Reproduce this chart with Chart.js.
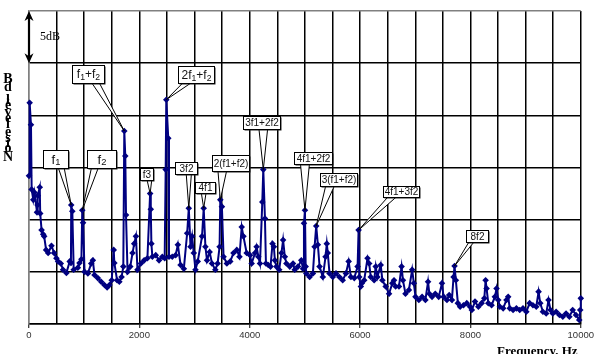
<!DOCTYPE html>
<html>
<head>
<meta charset="utf-8">
<script src="https://cdn.jsdelivr.net/npm/chart.js@4/dist/chart.umd.min.js"></script>
<style>
  html, body { margin: 0; padding: 0; background: #fff; }
  canvas { display: block; }
</style>
</head>
<body>
<canvas id="c" width="596" height="354"></canvas>
<script>
// Spectrum: frequency (Hz) and relative noise level (dB above the plot floor)
const freqHz = [
  0,12,36,48,78,100,145,155,160,195,203,228,257,275,310,347,407,455,497,527,
  576,617,678,738,760,765,785,810,885,915,950,965,980,1007,1067,1128,1157,1187,1247,1308,
  1367,1416,1457,1499,1535,1547,1596,1637,1678,1709,1727,1745,1758,1786,1835,1876,1907,1938,1966,2027,
  2087,2146,2195,2207,2218,2236,2297,2357,2416,2459,2477,2488,2524,2537,2596,2657,2698,2747,2806,2866,
  2896,2927,2956,2986,3017,3058,3136,3166,3197,3226,3274,3316,3377,3418,3454,3467,3496,3526,3586,3647,
  3706,3766,3814,3855,3886,3945,4006,4035,4096,4125,4156,4186,4228,4246,4276,4294,4336,4377,4413,4438,
  4456,4485,4534,4575,4605,4636,4665,4726,4785,4816,4875,4935,4966,4983,5001,5014,5025,5086,5145,5176,
  5205,5235,5266,5325,5374,5397,5415,5446,5505,5564,5625,5685,5744,5793,5834,5895,5955,5973,5985,6014,
  6032,6075,6135,6165,6194,6255,6284,6314,6374,6404,6464,6525,6584,6615,6644,6705,6752,6777,6823,6885,
  6944,6975,7004,7065,7124,7184,7232,7256,7304,7363,7425,7484,7514,7574,7615,7664,7694,7712,7736,7772,
  7813,7874,7934,7993,8025,8083,8144,8203,8252,8275,8293,8324,8383,8443,8473,8504,8533,8593,8653,8684,
  8713,8773,8833,8893,8953,9013,9073,9133,9193,9235,9265,9313,9373,9415,9451,9493,9553,9613,9674,9733,
  9793,9853,9913,9972,9990,10000
];
const levelDb = [
  14.2,21.2,19.1,12.9,11.9,12.6,10.7,11.4,12.3,13.1,10.6,9.0,8.6,8.4,7.1,6.8,7.5,6.8,6.3,6.0,
  5.8,5.2,4.9,6.0,5.85,11.4,10.8,5.2,5.4,5.85,6.2,10.9,9.7,5.0,4.85,5.8,6.1,4.7,4.4,4.05,
  3.74,3.5,3.74,4.2,7.1,5.85,4.2,4.05,4.5,5.5,18.5,16.1,10.45,5.0,5.5,6.8,7.7,8.4,5.2,5.8,
  6.1,6.3,12.5,11.0,7.7,6.45,6.6,6.1,6.45,6.3,14.8,21.5,17.8,6.45,6.45,6.6,7.6,5.66,5.3,8.7,
  11.1,7.4,8.4,6.8,5.2,6.0,8.4,11.1,7.4,6.1,6.9,5.8,5.2,5.8,7.4,11.9,11.25,6.45,5.8,6.0,
  6.8,7.1,6.45,9.3,8.4,6.8,6.6,5.8,6.8,7.4,6.45,5.8,11.7,14.8,10.1,5.8,5.66,5.5,7.7,7.4,
  6.1,5.5,5.2,6.8,8.05,6.45,5.8,5.5,5.8,5.2,5.5,6.1,5.3,9.65,10.9,5.5,4.85,4.5,4.85,7.4,
  9.4,7.6,5.5,4.5,6.45,7.7,6.8,4.85,4.5,4.85,4.5,4.2,4.85,6.0,4.5,4.4,5.5,9.0,4.5,3.6,
  3.9,4.2,6.3,5.8,4.5,4.2,5.5,4.5,5.66,4.2,3.6,2.9,3.9,4.2,3.6,3.6,5.5,4.2,2.9,3.26,
  5.2,3.9,2.6,2.3,2.6,2.3,4.05,2.9,2.6,2.9,2.6,3.9,2.6,2.3,2.78,2.3,4.5,5.56,4.2,2.0,
  1.66,1.8,2.0,1.66,1.34,2.15,1.66,2.0,2.46,4.2,3.4,2.0,1.8,2.6,3.4,2.3,1.66,1.5,2.3,2.6,
  1.5,1.34,1.5,1.34,1.5,1.18,2.0,1.8,1.66,3.1,2.0,1.18,1.0,2.3,1.34,1.0,1.18,0.86,0.7,1.0,
  0.7,1.34,0.86,0.38,1.34,2.46
];

// Axis ticks
const xTickLabels = [0, 2000, 4000, 6000, 8000, 10000];
const gridStepHz = 500;
const gridStepDb = 5;

// Peak identifications ("_" marks a subscript digit) and the frequency each one points at
const peakNames = ['f_1','f_2','f_1+f_2','2f_1+f_2','f3','3f2','4f1','2(f1+f2)','3f1+2f2','4f1+2f2','3(f1+f2)','4f1+3f2','8f2'];
const peakFreqs = [765, 965, 1727, 2488, 2195, 2896, 3166, 3467, 4246, 5001, 5205, 5973, 7712];

// ---- drawing ----
const calloutBoxes = [
  [43,150,68,168], [87,150,116,168], [72,65,104,83], [178,66,214,83],
  [140,168,153,180], [175,162,197,174], [195,182,215,193], [212,155,249,171],
  [243,116,280,129], [294,152,332,164], [320,173,357,186], [383,186,419,197], [466,230,488,242]
];
const calloutSizes = [13,13,12,12,10,10,10,10,10,10,10,10,10];

function parseRich(s) {
  const parts = [];
  for (let i = 0; i < s.length; i++) {
    if (s[i] === '_' && i + 1 < s.length) { parts.push({t: s[i+1], sub: true}); i++; }
    else parts.push({t: s[i], sub: false});
  }
  return parts;
}

function drawRich(ctx, s, cx, cy, size) {
  const parts = parseRich(s);
  const fam = '"Liberation Sans", Arial, sans-serif';
  let w = 0;
  parts.forEach(p => {
    ctx.font = (p.sub ? size * 0.72 : size) + 'px ' + fam;
    p.w = ctx.measureText(p.t).width;
    w += p.w;
  });
  let x = cx - w / 2;
  ctx.textBaseline = 'middle';
  ctx.textAlign = 'left';
  parts.forEach(p => {
    ctx.font = (p.sub ? size * 0.72 : size) + 'px ' + fam;
    ctx.fillText(p.t, x, cy + (p.sub ? size * 0.22 : 0));
    x += p.w;
  });
}

const callouts = {
  id: 'callouts',
  afterDatasetsDraw(chart) {
    const ctx = chart.ctx;
    const xs = chart.scales.x, ys = chart.scales.y;
    ctx.save();
    peakNames.forEach((name, i) => {
      const idx = freqHz.indexOf(peakFreqs[i]);
      const tip = { x: xs.getPixelForValue(freqHz[idx]), y: ys.getPixelForValue(levelDb[idx]) };
      const [x1, y1, x2, y2] = calloutBoxes[i];
      const w = x2 - x1, h = y2 - y1, cx = (x1 + x2) / 2, cy = (y1 + y2) / 2;
      const dx = tip.x - cx;
      const bc = cx + Math.sign(dx) * Math.min(Math.abs(dx), w * 0.22);
      const half = Math.max(2.5, w * 0.12);
      // wedge
      ctx.beginPath();
      ctx.moveTo(bc - half, y2 - 1);
      ctx.lineTo(tip.x, tip.y);
      ctx.lineTo(bc + half, y2 - 1);
      ctx.closePath();
      ctx.fillStyle = '#fff';
      ctx.fill();
      ctx.strokeStyle = '#000';
      ctx.lineWidth = 1;
      ctx.stroke();
      // box with shadow
      ctx.fillStyle = '#222';
      ctx.fillRect(x1 + 1.5, y1 + 1.5, w, h);
      ctx.fillStyle = '#fff';
      ctx.fillRect(x1, y1, w, h);
      ctx.strokeStyle = '#000';
      ctx.strokeRect(x1 + 0.5, y1 + 0.5, w, h);
      ctx.fillStyle = '#111';
      drawRich(ctx, name, cx + 0.5, cy + 1, calloutSizes[i]);
    });
    ctx.restore();
  }
};

const decorations = {
  id: 'decorations',
  afterDraw(chart) {
    const ctx = chart.ctx;
    const ys = chart.scales.y;
    const a = chart.chartArea;
    ctx.save();
    // 5 dB scale bar
    const yTop = ys.getPixelForValue(30), yBot = ys.getPixelForValue(30 - gridStepDb);
    const xa = a.left;
    ctx.strokeStyle = '#000';
    ctx.fillStyle = '#000';
    ctx.lineWidth = 2.2;
    ctx.beginPath();
    ctx.moveTo(xa, yTop + 6);
    ctx.lineTo(xa, yBot - 6);
    ctx.stroke();
    [[yTop, 1], [yBot, -1]].forEach(([y, d]) => {
      ctx.beginPath();
      ctx.moveTo(xa, y);
      ctx.lineTo(xa - 4.5, y + d * 10);
      ctx.lineTo(xa, y + d * 7);
      ctx.lineTo(xa + 4.5, y + d * 10);
      ctx.closePath();
      ctx.fill();
    });
    ctx.font = '12px "Liberation Serif", "Times New Roman", serif';
    ctx.textAlign = 'left';
    ctx.textBaseline = 'middle';
    ctx.fillText('5dB', xa + 11, (yTop + yBot) / 2);

    // vertical axis title, glyphs stacked upright along a bottom-to-top run
    const title = 'Noise level, dB';
    ctx.font = 'bold 14px "Liberation Serif", "Times New Roman", serif';
    ctx.textAlign = 'center';
    ctx.textBaseline = 'middle';
    let y = 162;
    for (const ch of title) {
      const adv = ctx.measureText(ch).width;
      if (ch !== ' ') ctx.fillText(ch, 8, y - adv / 2);
      y -= adv;
    }

    // horizontal axis title
    ctx.font = 'bold 13px "Liberation Serif", "Times New Roman", serif';
    ctx.textAlign = 'left';
    ctx.textBaseline = 'alphabetic';
    ctx.fillText('Frequency, Hz', 497, 355);
    ctx.restore();
  }
};

new Chart(document.getElementById('c'), {
  type: 'line',
  data: {
    datasets: [{
      data: freqHz.map((f, i) => ({ x: f, y: levelDb[i] })),
      borderColor: '#000080',
      backgroundColor: '#000080',
      borderWidth: 2,
      pointStyle: 'rectRot',
      pointRadius: 3.3,
      pointBorderWidth: 0,
      pointBackgroundColor: '#000080',
      tension: 0,
      clip: false
    }]
  },
  options: {
    responsive: false,
    animation: false,
    devicePixelRatio: 1,
    layout: { padding: { left: 29, right: 11, top: 11, bottom: 0 } },
    plugins: { legend: { display: false }, tooltip: { enabled: false } },
    scales: {
      x: {
        type: 'linear',
        min: 0, max: 10000,
        afterFit(s) { s.height = 30; },
        afterBuildTicks(s) {
          const t = [];
          for (let v = 0; v <= 10000; v += gridStepHz) t.push({ value: v });
          s.ticks = t;
        },
        ticks: {
          autoSkip: false,
          maxRotation: 0,
          padding: 2,
          color: '#333',
          font: { family: '"Liberation Sans", Arial, sans-serif', size: 9.5 },
          callback: v => xTickLabels.includes(v) ? String(v) : ''
        },
        grid: {
          color: c => (c.tick && c.tick.value === 0) ? '#808080' : '#000',
          lineWidth: 1.5,
          drawTicks: true,
          tickLength: 4,
          tickColor: c => (c.tick && xTickLabels.includes(c.tick.value)) ? '#000' : 'rgba(0,0,0,0)',
          tickWidth: 1
        },
        border: { color: '#000', width: 1.5 }
      },
      y: {
        type: 'linear',
        min: 0, max: 30,
        afterFit(s) { s.width = 0; },
        ticks: { display: false, stepSize: gridStepDb },
        grid: {
          color: c => (c.tick && c.tick.value === 30) ? '#808080' : '#000',
          lineWidth: 1.5,
          drawTicks: false
        },
        border: { color: '#808080', width: 1.5 }
      }
    }
  },
  plugins: [callouts, decorations]
});
</script>
</body>
</html>
